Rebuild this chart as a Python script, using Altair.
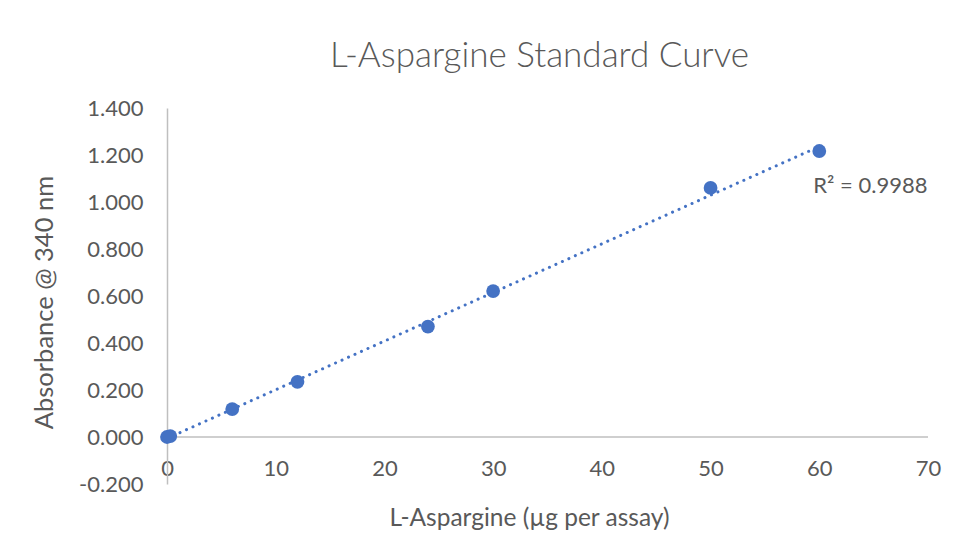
import altair as alt
import pandas as pd

amount = [0, 0.3, 6, 12, 24, 30, 50, 60]
absorbance = [0.000, 0.004, 0.119, 0.235, 0.470, 0.621, 1.060, 1.217]

label_text = ["R² = 0.9988"]
label_x = [64.7]
label_y = [1.07]

df = pd.DataFrame({"amount": amount, "absorbance": absorbance})
lab = pd.DataFrame({"t": label_text, "x": label_x, "y": label_y})

FONT = "Lato"
GRAY = "#595959"
BLUE = "#4472C4"

xscale = alt.Scale(domain=[0, 70], nice=False, zero=False)
yscale = alt.Scale(domain=[-0.2, 1.4], nice=False, zero=False)

base = alt.Chart(df)

points = base.mark_circle(size=190, opacity=1, color=BLUE).encode(
    x=alt.X("amount:Q", scale=xscale,
            axis=alt.Axis(title="L-Aspargine (µg per assay)", values=list(range(0, 71, 10)),
                          domain=False, ticks=False, grid=False, offset=-28, labelPadding=2,
                          labelFlush=False, labelOverlap=False,
                          labelFontSize=22, titleFontSize=24.5, titlePadding=27,
                          titleX=362, titleAlign="center",
                          labelColor=GRAY, titleColor=GRAY, labelFont=FONT, titleFont=FONT,
                          titleFontWeight="normal")),
    y=alt.Y("absorbance:Q", scale=yscale,
            axis=alt.Axis(title="Absorbance @ 340 nm", values=[-0.2, 0, 0.2, 0.4, 0.6, 0.8, 1.0, 1.2, 1.4],
                          format=".3f", labelExpr="replace(datum.label, '−', '-')",
                          domain=True, domainColor="#bfbfbf", domainWidth=1.5,
                          ticks=False, grid=False, labelPadding=24, labelOverlap=False,
                          labelFontSize=22, titleFontSize=25.5, titlePadding=21,
                          titleY=194, titleAlign="center",
                          labelColor=GRAY, titleColor=GRAY, labelFont=FONT, titleFont=FONT,
                          titleFontWeight="normal")),
)

trend = base.transform_regression("amount", "absorbance", method="linear", extent=[0, 60]).mark_line(
    color=BLUE, strokeWidth=3, strokeDash=[0.1, 7], strokeCap="round"
).encode(
    x=alt.X("amount:Q", scale=xscale),
    y=alt.Y("absorbance:Q", scale=yscale),
)

zero_line = alt.Chart(pd.DataFrame({"z": [0]})).mark_rule(color="#bfbfbf", strokeWidth=1.5).encode(
    y=alt.Y("z:Q", scale=yscale)
)

r2 = alt.Chart(lab).mark_text(font=FONT, fontSize=22, color=GRAY, align="center").encode(
    x=alt.X("x:Q", scale=xscale),
    y=alt.Y("y:Q", scale=yscale),
    text="t:N",
)

chart = alt.layer(zero_line, trend, points, r2).properties(
    width=761, height=376,
    title=alt.TitleParams("L-Aspargine Standard Curve", font=FONT, fontSize=35, fontWeight=300,
                          color=GRAY, anchor="middle", offset=23, dx=-8),
    autosize=alt.AutoSizeParams(type="none"),
    padding={"left": 159, "top": 100, "right": 20, "bottom": 60},
    background="white",
).configure_view(strokeWidth=0)

chart.save("out.html", embed_options={"renderer": "svg", "actions": False})
